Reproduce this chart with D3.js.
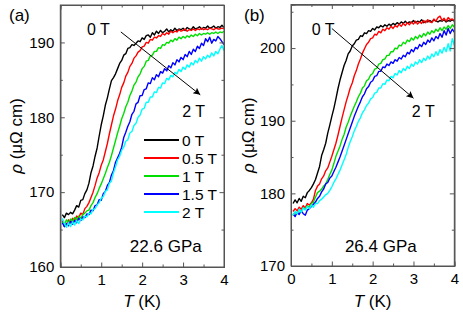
<!DOCTYPE html>
<html><head><meta charset="utf-8">
<script src="https://cdn.jsdelivr.net/npm/d3@7"></script>
<style>body{margin:0;background:#fff}svg{display:block;font-family:"Liberation Sans",Arial,sans-serif}</style>
</head><body><svg id="c" width="463" height="314"></svg>
<script>
const temps=[0.05,0.10,0.15,0.20,0.25,0.30,0.35,0.40,0.45,0.50,0.55,0.60,0.65,0.70,0.75,0.80,0.85,0.90,0.95,1.00,1.05,1.10,1.15,1.20,1.25,1.30,1.35,1.40,1.45,1.50,1.55,1.60,1.65,1.70,1.75,1.80,1.85,1.90,1.95,2.00,2.05,2.10,2.15,2.20,2.25,2.30,2.35,2.40,2.45,2.50,2.55,2.60,2.65,2.70,2.75,2.80,2.85,2.90,2.95,3.00,3.05,3.10,3.15,3.20,3.25,3.30,3.35,3.40,3.45,3.50,3.55,3.60,3.65,3.70,3.75,3.80,3.85,3.90,3.95,4.00];
const fieldLabels=["0 T","0.5 T","1 T","1.5 T","2 T"];
const colors=["#000000","#ff0000","#00dd00","#0000ff","#00ffff"];
// Panel (a) 22.6 GPa
const a0=[167.0,166.6,167.2,167.0,167.3,167.1,167.6,168.2,168.0,168.9,169.0,169.8,170.3,171.2,172.6,173.5,174.8,175.9,177.5,179.0,180.2,181.6,182.6,183.8,184.9,185.3,185.8,186.5,187.2,187.6,188.3,188.5,189.2,189.3,189.7,189.6,189.9,190.2,190.1,190.6,190.4,190.9,191.0,190.7,191.3,191.0,191.5,191.2,191.6,191.3,191.5,191.8,191.4,191.7,191.5,191.9,191.6,191.8,191.7,191.9,191.6,192.0,191.8,191.7,192.1,191.8,191.9,192.1,191.8,192.0,191.9,192.2,191.9,192.0,192.2,191.9,192.1,192.0,192.3,192.0];
const a05=[166.2,165.4,165.6,166.3,165.9,166.5,166.2,166.8,166.6,167.2,167.0,167.8,168.1,168.6,169.3,170.0,170.9,171.9,172.6,173.6,174.3,175.4,176.5,177.8,179.0,180.2,181.1,182.2,183.0,184.0,184.6,185.5,186.0,186.8,187.2,187.9,188.2,188.7,188.9,189.4,189.5,190.0,189.9,190.4,190.3,190.7,190.6,190.9,190.8,191.2,191.0,191.3,191.1,191.5,191.3,191.5,191.4,191.7,191.5,191.6,191.8,191.5,191.7,191.6,191.8,191.6,191.8,191.7,191.9,191.7,191.8,191.7,191.9,191.8,191.7,191.9,191.8,191.8,191.9,191.8];
const a1=[166.0,165.7,166.3,165.9,166.4,166.1,166.6,166.3,166.8,166.5,167.0,167.2,167.5,167.6,168.2,168.6,169.3,169.8,170.5,171.1,171.8,172.5,173.3,174.0,174.9,175.9,176.9,177.9,178.8,179.8,180.5,181.4,182.0,182.9,183.5,184.3,184.7,185.4,185.8,186.5,186.8,187.5,187.6,188.2,188.3,188.8,188.8,189.3,189.2,189.7,189.6,190.0,189.9,190.3,190.1,190.5,190.3,190.7,190.5,190.8,190.6,190.9,190.7,191.0,190.8,191.1,190.9,191.2,191.0,191.2,191.1,191.3,191.1,191.3,191.2,191.4,191.2,191.4,191.3,191.5];
const a15=[165.9,165.4,165.8,165.5,166.1,165.7,166.2,165.9,166.5,166.2,166.7,166.6,167.1,167.0,167.6,167.5,168.2,168.3,169.0,168.9,169.8,170.1,170.9,171.3,172.3,172.9,174.0,174.6,175.2,176.0,177.3,178.0,178.8,179.4,180.4,180.8,181.8,182.0,182.9,182.9,183.7,183.8,184.6,184.5,185.3,185.0,185.7,185.4,186.1,185.9,186.5,186.2,186.9,186.6,187.3,187.0,187.7,187.4,188.0,187.7,188.4,188.1,188.8,188.4,189.1,188.8,189.5,189.2,189.9,189.6,190.5,190.1,190.7,189.9,190.4,190.2,190.8,190.5,190.1,189.7];
const a2=[166.5,165.8,165.3,165.9,165.4,166.0,165.6,166.2,165.8,166.4,166.3,166.8,166.7,167.2,167.1,167.7,167.8,168.3,168.6,169.2,169.4,170.1,170.3,171.2,171.5,172.6,173.4,174.3,174.8,175.6,176.0,176.8,177.0,177.9,178.1,178.9,179.2,180.0,180.3,181.1,181.2,182.0,182.0,182.7,182.7,183.4,183.3,184.0,183.9,184.6,184.5,185.2,185.0,185.6,185.4,186.0,185.8,186.4,186.1,186.7,186.4,187.0,186.7,187.3,187.0,187.6,187.3,187.9,187.5,188.1,187.8,188.3,188.0,188.6,188.2,188.8,188.5,189.1,189.6,188.9];
// Panel (b) 26.4 GPa
const b0=[178.6,179.1,178.7,179.3,178.9,179.6,179.4,180.1,180.4,180.8,181.3,181.9,182.8,183.7,185.2,186.0,186.9,188.3,189.4,190.6,191.7,193.0,194.4,195.6,196.6,197.6,198.3,199.2,199.6,200.3,200.6,201.1,201.2,201.7,201.6,202.1,202.0,202.4,202.3,202.7,202.5,202.9,202.8,203.1,202.9,203.2,203.0,203.3,203.1,203.4,203.2,203.5,203.3,203.6,203.4,203.7,203.4,203.6,203.5,203.8,203.5,203.7,203.6,203.9,203.5,203.7,203.6,203.8,203.6,203.9,203.7,203.6,203.8,203.7,203.9,203.6,203.8,203.7,203.9,203.7];
const b05=[177.5,177.9,177.6,178.1,177.8,178.3,178.0,178.6,178.4,178.7,179.2,180.4,181.0,181.3,182.0,182.4,183.1,183.5,184.3,185.1,186.0,186.9,188.0,189.2,190.4,191.5,192.6,193.5,194.5,195.2,196.2,196.9,197.8,198.5,199.3,199.9,200.5,200.8,201.3,201.4,201.9,201.8,202.3,202.1,202.6,202.4,202.8,202.6,203.0,202.7,203.1,202.9,203.3,203.0,203.4,203.1,203.5,203.2,203.6,203.3,203.7,203.3,203.6,203.4,203.8,203.5,203.9,203.6,203.5,204.0,203.7,204.2,204.4,203.8,204.1,203.7,204.2,203.9,204.0,203.8];
const b1=[176.9,177.4,177.2,177.7,177.5,178.0,177.8,178.3,178.1,178.6,178.8,179.5,180.1,180.3,180.6,181.0,181.3,181.9,182.6,183.2,184.1,185.1,185.8,186.5,187.4,188.1,189.1,189.8,190.6,191.3,192.0,192.6,193.3,193.8,194.5,194.8,195.5,195.7,196.3,196.5,197.1,197.2,197.8,197.9,198.4,198.5,199.0,199.0,199.5,199.5,200.0,199.9,200.4,200.3,200.8,200.6,201.1,200.9,201.4,201.1,201.6,201.3,201.8,201.5,202.0,201.7,202.2,201.9,202.4,202.1,202.6,202.3,202.8,202.4,202.9,202.6,203.1,202.7,203.2,202.9];
const b15=[177.2,176.8,177.4,177.1,177.6,177.2,177.0,177.7,177.9,178.2,178.5,178.8,179.3,179.6,180.2,180.6,181.3,181.5,182.1,182.4,183.0,183.6,184.3,185.0,185.8,186.6,187.4,188.2,189.0,189.8,190.6,191.3,192.0,192.6,193.3,193.7,194.4,194.7,195.3,195.5,196.1,196.2,196.8,196.8,197.4,197.3,197.8,197.6,198.1,197.9,198.4,198.2,198.7,198.5,199.0,198.8,199.4,199.2,199.8,199.5,200.1,199.9,200.5,200.2,200.8,200.5,201.1,200.8,201.4,201.0,201.6,201.3,202.0,201.5,202.4,201.8,202.7,202.0,202.6,202.2];
const b2=[177.0,177.5,177.2,177.8,177.4,178.0,177.7,178.2,177.9,178.4,178.1,178.6,178.6,179.0,179.2,179.5,179.8,180.0,180.4,180.9,181.5,182.0,182.6,183.2,183.9,184.6,185.3,186.3,187.1,187.8,188.6,189.2,189.9,190.4,191.1,191.5,192.1,192.4,193.0,193.2,193.8,193.9,194.5,194.5,195.1,195.0,195.6,195.5,196.1,195.9,196.5,196.3,196.9,196.6,197.2,196.9,197.5,197.2,197.8,197.5,198.1,197.8,198.4,198.0,198.6,198.3,198.9,198.5,199.2,198.8,199.5,199.0,199.8,199.3,200.1,199.5,200.6,199.6,201.3,200.4];
const xTicks=[0,1,2,3,4];
const yTicksA=[160,170,180,190];
const yTicksB=[170,180,190,200];

const svg=d3.select("#c");
const defs=svg.append("defs");
defs.append("marker").attr("id","arr").attr("viewBox","0 0 10 10").attr("refX",10).attr("refY",5)
  .attr("markerWidth",9).attr("markerHeight",7).attr("markerUnits","userSpaceOnUse").attr("orient","auto")
  .append("path").attr("d","M0,0L10,5L0,10L2,5Z").attr("fill","#000");

const panels=[
 {id:"a",label:"(a)",labelX:9,left:60.3,right:224,top:5,bottom:267,ydom:[160,195],yt:yTicksA,ymin:[165,175,185],
  series:[a0,a05,a1,a15,a2],press:"22.6 GPa",pressPos:[1.70,162.0],
  arrow:[[1.48,191.4],[3.42,183.0]],t0:[0.65,191.0],t2:[2.98,180.0],legend:true,ylabX:16},
 {id:"b",label:"(b)",labelX:244,left:291,right:454.3,top:4.5,bottom:266,ydom:[170,206],yt:yTicksB,ymin:[175,185,195,205],
  series:[b0,b05,b1,b15,b2],press:"26.4 GPa",pressPos:[1.32,171.9],
  arrow:[[1.0,202.7],[3.0,193.1]],t0:[0.51,201.8],t2:[2.96,190.5],legend:false,ylabX:248}
];

panels.forEach(p=>{
  const x=d3.scaleLinear().domain([0,4]).range([p.left,p.right]);
  const y=d3.scaleLinear().domain(p.ydom).range([p.bottom,p.top]);
  const g=svg.append("g");
  defs.append("clipPath").attr("id","clip"+p.id).append("rect")
    .attr("x",p.left).attr("y",p.top).attr("width",p.right-p.left).attr("height",p.bottom-p.top);
  // curves
  const line=d3.line().x((d,i)=>x(temps[i])).y(d=>y(d));
  const cg=g.append("g").attr("clip-path","url(#clip"+p.id+")");
  p.series.forEach((s,k)=>{
    cg.append("path").datum(s).attr("d",line).attr("fill","none").attr("stroke",colors[k])
      .attr("stroke-width",1.4).attr("stroke-linejoin","round");
  });
  // axes (ticks inward, mirrored)
  const fc="#555";
  const xMinor=[0.5,1.5,2.5,3.5];
  const bottom=g.append("g").attr("transform",`translate(0,${p.bottom})`)
    .call(d3.axisBottom(x).tickValues(xTicks).tickSize(-4.5).tickPadding(7).tickFormat(d3.format("d")));
  g.append("g").attr("transform",`translate(0,${p.bottom})`).call(d3.axisBottom(x).tickValues(xMinor).tickSize(-2.5).tickFormat(""));
  g.append("g").attr("transform",`translate(0,${p.top})`).call(d3.axisTop(x).tickValues(xTicks).tickSize(-4.5).tickFormat(""));
  g.append("g").attr("transform",`translate(0,${p.top})`).call(d3.axisTop(x).tickValues(xMinor).tickSize(-2.5).tickFormat(""));
  const leftAx=g.append("g").attr("transform",`translate(${p.left},0)`)
    .call(d3.axisLeft(y).tickValues(p.yt).tickSize(-4.5).tickPadding(6).tickFormat(d3.format("d")));
  g.append("g").attr("transform",`translate(${p.left},0)`).call(d3.axisLeft(y).tickValues(p.ymin).tickSize(-2.5).tickFormat(""));
  g.append("g").attr("transform",`translate(${p.right},0)`).call(d3.axisRight(y).tickValues(p.yt).tickSize(-4.5).tickFormat(""));
  g.append("g").attr("transform",`translate(${p.right},0)`).call(d3.axisRight(y).tickValues(p.ymin).tickSize(-2.5).tickFormat(""));
  g.selectAll(".domain").attr("stroke",fc);
  g.selectAll(".tick line").attr("stroke",fc);
  g.selectAll(".tick text").attr("font-size",15).attr("fill","#000").attr("font-family","Liberation Sans, Arial, sans-serif");
  // frame
  g.append("rect").attr("x",p.left).attr("y",p.top).attr("width",p.right-p.left).attr("height",p.bottom-p.top)
    .attr("fill","none").attr("stroke",fc).attr("stroke-width",1);
  // axis titles
  const xt=g.append("text").attr("x",(p.left+p.right)/2).attr("y",307).attr("text-anchor","middle").attr("font-size",17);
  xt.append("tspan").attr("font-style","italic").text("T");
  xt.append("tspan").text(" (K)");
  const cy=(p.top+p.bottom)/2;
  const yt=g.append("text").attr("transform",`translate(${p.ylabX},${cy}) rotate(-90)`).attr("text-anchor","middle")
    .attr("dominant-baseline","central").attr("font-size",17);
  yt.append("tspan").attr("font-style","italic").text("ρ");
  yt.append("tspan").text(" (μΩ cm)");
  // panel label
  g.append("text").attr("x",p.labelX).attr("y",21).attr("font-size",17).text(p.label);
  // pressure
  g.append("text").attr("x",x(p.pressPos[0])).attr("y",y(p.pressPos[1])).attr("font-size",17).text(p.press);
  // annotations
  g.append("text").attr("x",x(p.t0[0])).attr("y",y(p.t0[1])).attr("font-size",16).text("0 T");
  g.append("text").attr("x",x(p.t2[0])).attr("y",y(p.t2[1])).attr("font-size",16).text("2 T");
  g.append("line").attr("x1",x(p.arrow[0][0])).attr("y1",y(p.arrow[0][1])).attr("x2",x(p.arrow[1][0])).attr("y2",y(p.arrow[1][1]))
    .attr("stroke","#000").attr("stroke-width",1).attr("marker-end","url(#arr)");
  // legend
  if(p.legend){
    const lg=g.append("g");
    fieldLabels.forEach((lab,k)=>{
      const yy=140+k*18;
      lg.append("line").attr("x1",144).attr("x2",179).attr("y1",yy).attr("y2",yy).attr("stroke",colors[k]).attr("stroke-width",2);
      lg.append("text").attr("x",182).attr("y",yy).attr("dominant-baseline","central").attr("font-size",15.5).text(lab);
    });
  }
});
</script></body></html>
